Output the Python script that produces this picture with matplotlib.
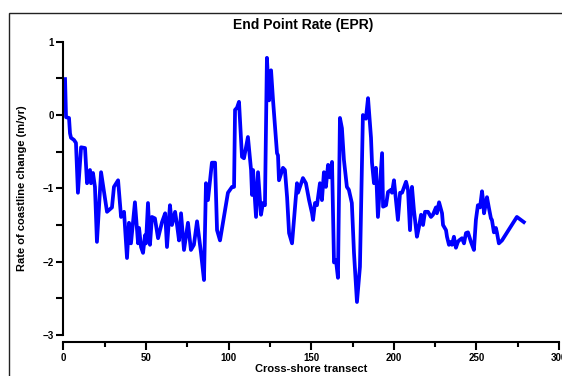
import matplotlib
matplotlib.use("Agg")
import matplotlib.pyplot as plt
from matplotlib.ticker import MultipleLocator
from matplotlib.patches import Rectangle

plt.rcParams['font.family'] = ['Liberation Sans', 'DejaVu Sans']
plt.rcParams['font.weight'] = 'bold'

title = "End Point Rate (EPR)"
xlabel = "Cross-shore transect"
ylabel = "Rate of coastline change (m/yr)"

transect = [
    1.0, 1.6, 3.4, 4.0, 4.6, 6.4, 7.6, 8.8, 10.7, 13.1, 14.3, 16.1, 16.7, 17.9, 19.1,
    20.3, 22.8, 26.4, 29.4, 30.6, 33.1, 34.9, 36.7, 38.5, 39.7, 40.9, 43.3, 45.2,
    45.8, 47.0, 48.2, 49.4, 50.0, 51.2, 52.4, 53.6, 55.4, 57.3, 59.7, 61.6, 62.7,
    64.5, 65.7, 67.6, 68.8, 70.0, 71.2, 73.0, 75.4, 77.2, 79.0, 80.9, 83.3, 85.1,
    86.3, 87.5, 89.9, 91.8, 93.0,
    94.8, 99.6, 102.1, 103.3, 103.9, 105.1, 106.3, 108.1, 109.3, 111.7, 113.6, 114.2,
    114.8, 116.6, 117.8, 119.6, 120.8, 122.0, 123.2, 124.5, 125.7, 126.9, 129.3,
    129.9, 130.5, 132.9, 134.1, 135.4, 136.6, 138.4, 141.4, 142.0, 145.0,
    146.8, 148.7, 150.5, 151.1, 152.3, 153.5, 155.3, 156.5, 157.7, 158.9, 160.2,
    161.4, 162.6, 163.8, 165.0, 166.2, 167.4, 168.6, 169.8, 171.6, 172.8, 174.6,
    175.9, 177.7, 179.5, 181.3, 183.1, 184.4, 186.2, 186.8, 188.0, 189.2, 190.4,
    192.9, 193.5, 195.3, 196.5, 198.3, 198.9, 200.1, 201.3, 202.5, 203.8, 205.0,
    207.4, 208.6, 209.8, 211.0, 212.2, 214.0, 215.2, 216.5, 217.7, 218.9, 220.7,
    222.5, 223.7, 225.5, 226.1, 227.4, 229.2, 229.8, 231.6, 232.2, 233.4, 234.6,
    235.2, 236.4, 237.6, 238.8,
    239.5, 241.3, 242.5, 243.7, 244.9, 246.7, 248.5, 249.7, 250.9, 252.2, 253.4,
    254.0, 254.6, 255.8, 256.4, 257.6, 258.8, 259.4, 260.6, 261.8, 262.4, 263.6,
    265.5, 274.5, 276.9, 278.7,
]

epr = [
    0.49, -0.03, -0.04, -0.25, -0.31, -0.34, -0.38, -1.06, -0.44, -0.45, -0.93, -0.75,
    -0.93, -0.79, -0.98, -1.73, -0.78, -1.32, -1.26, -0.98, -0.89, -1.39, -1.32, -1.95,
    -1.47, -1.75, -1.19, -1.75,
    -1.54, -1.80, -1.88, -1.64, -1.75, -1.20, -1.77, -1.39, -1.41, -1.68, -1.46, -1.34,
    -1.80, -1.23, -1.50, -1.32, -1.50, -1.71, -1.34, -1.84, -1.47, -1.84, -1.77, -1.45,
    -1.88, -2.25, -0.93, -1.16, -0.65, -0.65, -1.57,
    -1.71, -1.06, -0.98, -0.98, 0.07, 0.10, 0.18, -0.57, -0.59, -0.30, -0.75, -1.09,
    -0.75, -1.39, -0.78, -1.36, -1.20, -1.23, 0.78, 0.20, 0.61, 0.20, -0.52,
    -0.55, -0.89, -0.72, -0.75, -1.12, -1.61, -1.75, -0.93, -1.06, -0.86,
    -0.93, -1.16, -1.34, -1.43, -1.20, -1.23, -0.93, -1.16, -0.78, -0.98, -0.68,
    -0.85, -0.64, -2.01, -1.98, -2.22, -0.04, -0.18, -0.61, -0.98, -1.02, -1.20,
    -1.88, -2.55, -2.07, 0.00, -0.05, 0.23, -0.31, -0.65, -0.93, -0.72, -1.39,
    -0.52, -1.25, -1.23, -1.05, -1.02, -1.06, -0.89, -1.16, -1.43, -1.06, -1.06,
    -0.91, -1.02, -1.57, -0.98, -1.30, -1.66, -1.53, -1.36, -1.50, -1.32, -1.32,
    -1.39, -1.36, -1.26, -1.34, -1.19, -1.34, -1.50, -1.57, -1.66, -1.77, -1.73,
    -1.77, -1.66, -1.81, -1.73,
    -1.71, -1.68, -1.75, -1.61, -1.60, -1.73, -1.84, -1.43, -1.23, -1.26, -1.04,
    -1.16, -1.34, -1.20, -1.12, -1.27, -1.41, -1.43, -1.60, -1.54, -1.60, -1.75,
    -1.71, -1.39, -1.43, -1.46,
]

W, H = 562, 376
fig = plt.figure(figsize=(W / 100, H / 100), dpi=100)
ax = fig.add_axes([63.4 / W, 1 - 335 / H, (559 - 63.4) / W, (335 - 41.7) / H])

ax.plot(transect, epr, color='#0000FF', lw=2.7, solid_joinstyle='round', clip_on=False)

ax.set_xlim(0, 300)
ax.set_ylim(-3, 1)
ax.xaxis.set_major_locator(MultipleLocator(50))
ax.xaxis.set_minor_locator(MultipleLocator(25))
ax.yaxis.set_major_locator(MultipleLocator(1))
ax.yaxis.set_minor_locator(MultipleLocator(0.5))

for s in ['top', 'right']:
    ax.spines[s].set_visible(False)
for s in ['left', 'bottom']:
    ax.spines[s].set_linewidth(1.5)
ax.spines['bottom'].set_position(('outward', 5))

ax.tick_params(axis='x', which='major', length=6, width=1.5, labelsize=7, pad=2)
ax.tick_params(axis='x', which='minor', length=3.5, width=1.5)
ax.tick_params(axis='y', which='both', length=5, width=1.5, labelsize=7, pad=2)
for lab in ax.get_xticklabels() + ax.get_yticklabels():
    lab.set_fontweight('bold')

ax.set_xlabel(xlabel, fontsize=8, fontweight='bold', labelpad=1)
ax.set_ylabel(ylabel, fontsize=8, fontweight='bold', labelpad=11)
fig.text(303 / W, 1 - 25 / H, title, ha='center', va='center', fontsize=10, fontweight='bold')

fig.patches.append(Rectangle((8.5 / W, -0.1), 1.2, 1 - 13 / H + 0.1, transform=fig.transFigure,
                             fill=False, edgecolor='#222222', lw=1.0, clip_on=False))

fig.savefig('out.png', dpi=100)
